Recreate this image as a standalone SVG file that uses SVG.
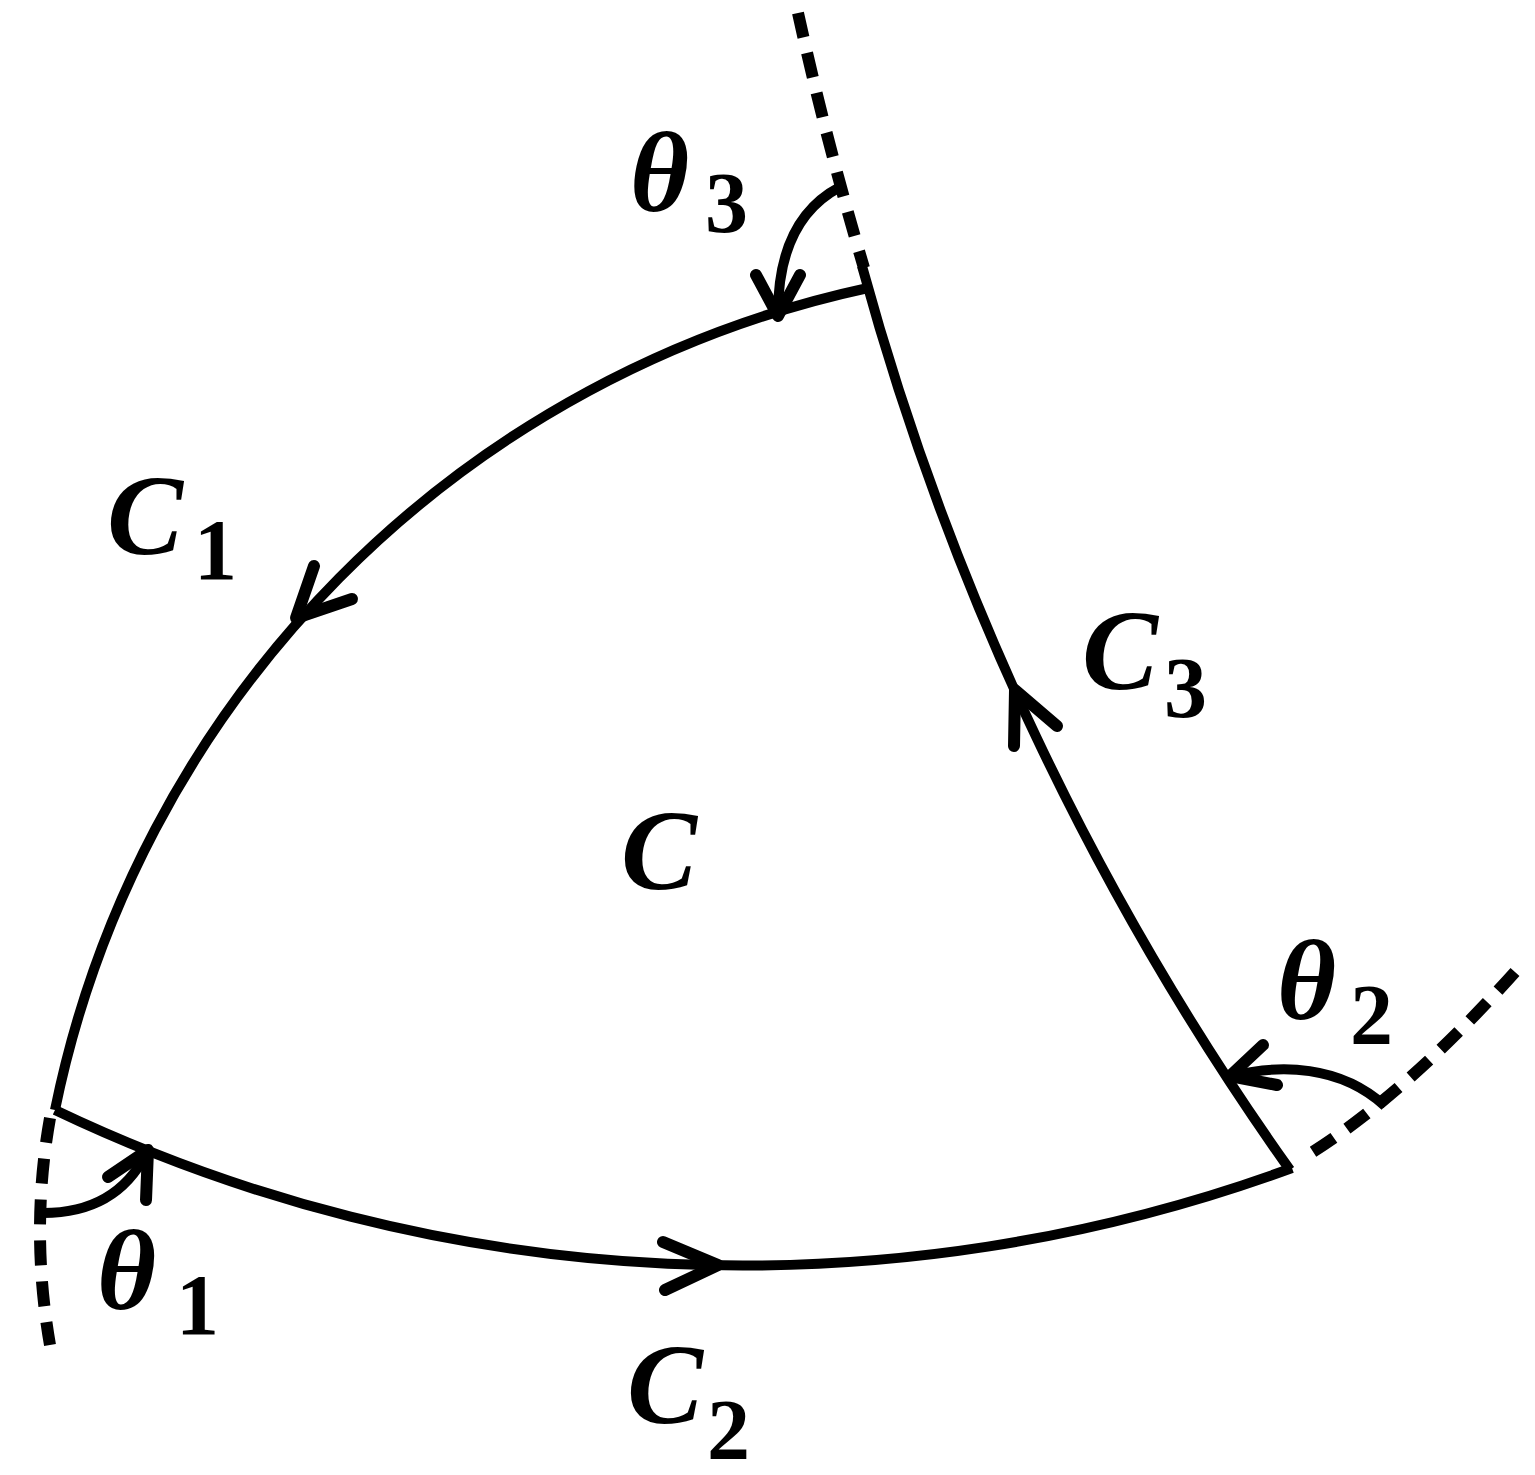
<svg xmlns="http://www.w3.org/2000/svg" width="1535" height="1475" viewBox="0 0 1535 1475">
<style>
.solid{fill:none;stroke:#000;stroke-width:10;stroke-linecap:butt}
.arw{fill:none;stroke:#000;stroke-width:12;stroke-linecap:round;stroke-linejoin:round}
.dash{fill:none;stroke:#000;stroke-width:12;stroke-dasharray:25 16}
.m{font-family:"Liberation Serif","DejaVu Serif",serif;font-weight:bold;font-style:italic;font-size:114px}
.s{font-family:"Liberation Serif","DejaVu Serif",serif;font-weight:bold;font-size:86px}
</style>
<rect width="1535" height="1475" fill="#fff"/>
<g id="connectors">
<path id="C1-curve" class="solid" d="M868,288 A1057,1057 0 0 0 55,1110"/>
<path id="C2-curve" class="solid" d="M55,1110 A1597,1597 0 0 0 1292,1168"/>
<path id="C3-curve" class="solid" d="M1290,1170 A2859,2859 0 0 1 862,266"/>
<polyline class="arw" points="314,566 296,618 352,599"/>
<polyline class="arw" points="663,1242 718,1265 665,1290"/>
<polyline class="arw" points="1014,746 1015,690 1057,726"/>
<path class="dash" d="M798,13 Q826,140 864,268"/>
<path class="dash" d="M50,1118 Q30,1230 50,1345"/>
<path class="dash" d="M1515,972 Q1402,1098 1303,1158"/>
<path class="solid" d="M840,187 C800,208 778,250 778,314"/>
<polyline class="arw" points="756,275 778,316 800,275"/>
<path class="solid" d="M43,1213 C90,1213 125,1195 146,1154"/>
<polyline class="arw" points="108,1177 148,1150 146,1200"/>
<path class="solid" d="M1385,1106 C1340,1065 1280,1064 1232,1076"/>
<polyline class="arw" points="1263,1045 1230,1076 1277,1085"/>
</g>
<g id="label-C"><text class="m" x="621" y="889">C</text></g>
<g id="label-C1"><text class="m" x="107" y="554">C</text><text class="s" x="194" y="579">1</text></g>
<g id="label-C2"><text class="m" x="627" y="1423">C</text><text class="s" x="707" y="1459">2</text></g>
<g id="label-C3"><text class="m" x="1082" y="689">C</text><text class="s" x="1164" y="717">3</text></g>
<g id="label-theta1"><text class="m" x="97" y="1309">θ</text><text class="s" x="176" y="1334">1</text></g>
<g id="label-theta2"><text class="m" x="1277" y="1019">θ</text><text class="s" x="1350" y="1044">2</text></g>
<g id="label-theta3"><text class="m" x="630" y="211">θ</text><text class="s" x="705" y="232">3</text></g>
</svg>
